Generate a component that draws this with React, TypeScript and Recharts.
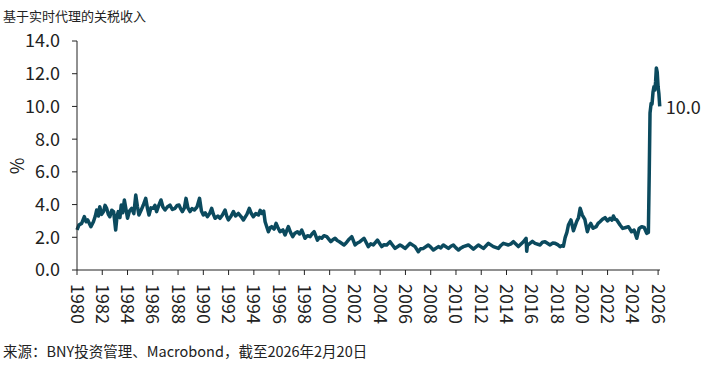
import { Line, LineChart, XAxis, YAxis } from "recharts"

// decimal years and tariff revenue (% of imports)
const years1980s = [
  1980.0, 1980.15, 1980.37, 1980.58, 1980.72, 1980.85, 1981.1, 1981.3, 1981.45, 1981.56, 1981.7, 1981.8,
  1981.95, 1982.1, 1982.22, 1982.35, 1982.48, 1982.6, 1982.75, 1982.9, 1983.06, 1983.17, 1983.27, 1983.4,
  1983.5, 1983.62, 1983.75, 1983.88, 1984.0, 1984.15, 1984.33, 1984.5, 1984.65, 1984.78, 1984.9, 1985.1,
  1985.25, 1985.44, 1985.58, 1985.7, 1985.85, 1986.04, 1986.17, 1986.3, 1986.45, 1986.65, 1986.8, 1986.97,
  1987.15, 1987.36, 1987.55, 1987.76, 1987.92, 1988.08, 1988.2, 1988.34, 1988.5, 1988.63, 1988.78, 1988.95,
  1989.1, 1989.29, 1989.5, 1989.7, 1989.85,
]
const rates1980s = [
  2.45, 2.75, 2.85, 3.26, 2.95, 3.06, 2.65, 2.95, 3.3, 3.67, 3.3, 3.87,
  3.4, 3.57, 3.95, 3.77, 3.4, 3.26, 3.65, 3.57, 2.44, 3.3, 3.57, 3.2,
  3.97, 3.5, 4.28, 3.7, 3.16, 3.6, 3.77, 3.45, 4.58, 3.9, 3.36, 3.7,
  3.97, 4.38, 3.75, 3.36, 3.8, 3.77, 3.95, 3.57, 3.9, 4.28, 3.85, 3.67,
  3.85, 3.97, 3.7, 3.77, 3.95, 3.97, 3.75, 3.57, 3.8, 4.38, 3.8, 3.57,
  3.75, 3.67, 3.85, 4.38, 3.6,
]

const years1990s = [
  1990.0, 1990.15, 1990.32, 1990.5, 1990.66, 1990.8, 1990.93, 1991.15, 1991.32, 1991.5, 1991.72, 1991.85,
  1991.98, 1992.2, 1992.38, 1992.55, 1992.77, 1993.0, 1993.17, 1993.45, 1993.64, 1993.8, 1993.96, 1994.15,
  1994.36, 1994.5, 1994.62, 1994.78, 1994.89, 1995.15, 1995.3, 1995.41, 1995.6, 1995.76, 1995.9, 1996.07,
  1996.3, 1996.47, 1996.6, 1996.73, 1996.9, 1997.08, 1997.25, 1997.45, 1997.62, 1997.79, 1998.05, 1998.25,
  1998.45, 1998.6, 1998.77, 1999.03, 1999.2, 1999.37, 1999.55, 1999.77,
]
const rates1990s = [
  3.36, 3.5, 3.26, 3.45, 3.77, 3.4, 3.16, 3.3, 3.16, 3.35, 3.67, 3.3,
  3.06, 3.3, 3.57, 3.3, 3.46, 3.25, 3.06, 3.4, 3.77, 3.45, 3.26, 3.45,
  3.36, 3.65, 3.46, 3.6, 2.95, 2.34, 2.6, 2.65, 2.5, 2.85, 2.6, 2.34,
  2.45, 2.14, 2.4, 2.65, 2.3, 2.04, 2.25, 2.34, 2.2, 2.44, 1.94, 2.1,
  2.04, 2.2, 2.34, 1.83, 2.0, 1.94, 2.1, 2.04,
]

const years2000s = [
  2000.09, 2000.25, 2000.43, 2000.6, 2000.77, 2001.14, 2001.3, 2001.48, 2001.75, 2002.01, 2002.2, 2002.4,
  2002.72, 2003.06, 2003.25, 2003.46, 2003.78, 2004.12, 2004.3, 2004.52, 2004.78, 2005.0, 2005.18, 2005.57,
  2005.75, 2005.97, 2006.2, 2006.37, 2006.76, 2007.02, 2007.2, 2007.42, 2007.81, 2008.0, 2008.21, 2008.61,
  2008.8, 2009.0, 2009.4, 2009.6, 2009.79,
]
const rates2000s = [
  1.73, 1.85, 1.94, 1.8, 1.73, 1.53, 1.65, 1.83, 2.04, 1.53, 1.65, 1.73,
  1.94, 1.43, 1.6, 1.53, 1.83, 1.43, 1.55, 1.53, 1.73, 1.5, 1.32, 1.53,
  1.45, 1.32, 1.5, 1.63, 1.43, 1.12, 1.3, 1.32, 1.53, 1.4, 1.22, 1.43,
  1.35, 1.53, 1.32, 1.45, 1.53,
]

const years2010s = [
  2010.0, 2010.19, 2010.4, 2010.59, 2010.98, 2011.2, 2011.38, 2011.77, 2012.17, 2012.4, 2012.57, 2012.96,
  2013.36, 2013.55, 2013.75, 2014.15, 2014.35, 2014.55, 2014.94, 2015.34, 2015.55, 2015.6, 2015.65, 2015.8,
  2016.05, 2016.26, 2016.66, 2016.85, 2017.05, 2017.45, 2017.65, 2017.85, 2018.05, 2018.24, 2018.4, 2018.5,
  2018.64, 2018.78, 2018.9, 2019.1, 2019.3, 2019.56, 2019.7, 2019.83,
]
const rates2010s = [
  1.35, 1.22, 1.35, 1.43, 1.53, 1.4, 1.28, 1.53, 1.32, 1.5, 1.63, 1.43,
  1.32, 1.5, 1.63, 1.53, 1.6, 1.73, 1.43, 1.73, 1.94, 1.15, 1.5, 1.6,
  1.75, 1.63, 1.53, 1.7, 1.73, 1.53, 1.65, 1.63, 1.55, 1.43, 1.5, 1.45,
  1.98, 2.3, 2.75, 3.06, 2.4, 2.98, 3.2, 3.77,
]

const years2020s = [
  2020.0, 2020.2, 2020.4, 2020.55, 2020.67, 2020.85, 2021.1, 2021.25, 2021.4, 2021.6, 2021.8, 2022.0,
  2022.2, 2022.35, 2022.46, 2022.6, 2022.73, 2022.99, 2023.2, 2023.45, 2023.65, 2023.9, 2024.1, 2024.31,
  2024.5, 2024.7, 2024.9, 2025.1, 2025.23, 2025.3, 2025.36, 2025.45, 2025.52, 2025.6, 2025.67, 2025.74,
  2025.8, 2025.86, 2025.93, 2026.0, 2026.06, 2026.13,
]
const rates2020s = [
  3.36, 3.1, 2.34, 2.7, 2.85, 2.55, 2.65, 2.85, 2.95, 3.1, 3.2, 3.0,
  3.16, 3.05, 3.3, 3.1, 3.06, 2.75, 2.54, 2.6, 2.65, 2.34, 2.44, 1.94,
  2.54, 2.65, 2.6, 2.24, 2.3, 6.0, 9.6, 10.2, 10.15, 10.9, 11.2, 11.0,
  11.5, 12.35, 12.1, 11.2, 10.8, 10.0,
]

const yTicks = [0, 2, 4, 6, 8, 10, 12, 14]
const xTicks = [
  1980, 1982, 1984, 1986, 1988, 1990, 1992, 1994, 1996, 1998, 2000, 2002,
  2004, 2006, 2008, 2010, 2012, 2014, 2016, 2018, 2020, 2022, 2024, 2026,
]

const allYears = [...years1980s, ...years1990s, ...years2000s, ...years2010s, ...years2020s]
const allRates = [...rates1980s, ...rates1990s, ...rates2000s, ...rates2010s, ...rates2020s]
const chartData = allYears.map((t, i) => ({ t, v: allRates[i] }))

const FONT = '"Noto Sans CJK SC", "Noto Sans", sans-serif'
const INK = "#222"
const LINE = "#0b4a5e"

const XTick = (props: any) => {
  const { x, y, payload } = props
  return (
    <text
      x={x}
      y={y}
      dy={-1.5}
      transform={`rotate(90 ${x} ${y})`}
      textAnchor="start"
      dominantBaseline="central"
      fontSize={18}
      fontFamily={FONT}
      fill={INK}
    >
      {payload.value}
    </text>
  )
}

const EndLabel = (props: any) => {
  const { x, y, index } = props
  if (index !== chartData.length - 1) return null
  return (
    <text x={x + 6} y={y} dominantBaseline="central" fontSize={18} fontFamily={FONT} fill={INK}>
      {chartData[index].v.toFixed(1)}
    </text>
  )
}

export default function App() {
  return (
    <div style={{ position: "fixed", left: 0, top: 0, width: 718, height: 369, background: "#fff", fontFamily: FONT, color: INK }}>
      <div style={{ position: "absolute", left: 3, top: 6, fontSize: 13 }}>基于实时代理的关税收入</div>
      <div
        style={{
          position: "absolute",
          left: 8,
          top: 153,
          fontSize: 18,
          transform: "rotate(-90deg)",
          transformOrigin: "center",
        }}
      >
        %
      </div>
      <LineChart width={718} height={369} data={chartData} margin={{ top: 41, right: 58, bottom: 39, left: 0 }}>
        <XAxis
          dataKey="t"
          type="number"
          domain={[1980, 2026.15]}
          ticks={xTicks}
          interval={0}
          tick={<XTick />}
          tickSize={5}
          tickMargin={9}
          height={60}
          stroke={INK}
        />
        <YAxis
          type="number"
          domain={[0, 14]}
          ticks={yTicks}
          interval={0}
          width={77}
          tickSize={5}
          tickMargin={12}
          tickFormatter={(v: number) => v.toFixed(1)}
          tick={{ fontSize: 18, fontFamily: FONT, fill: INK }}
          stroke={INK}
        />
        <Line
          dataKey="v"
          type="linear"
          stroke={LINE}
          strokeWidth={3.5}
          strokeLinejoin="round"
          dot={false}
          isAnimationActive={false}
          label={<EndLabel />}
        />
      </LineChart>
      <div style={{ position: "absolute", left: 3, top: 340, fontSize: 14.5 }}>
        来源：BNY投资管理、Macrobond，截至2026年2月20日
      </div>
    </div>
  )
}
